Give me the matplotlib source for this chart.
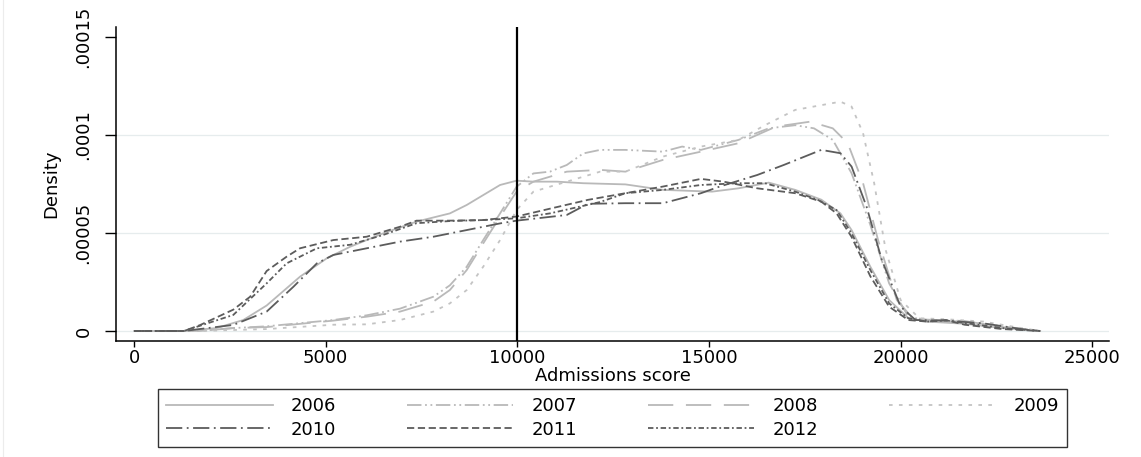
import matplotlib
matplotlib.use("Agg")
import matplotlib.pyplot as plt
from matplotlib.lines import Line2D

# --- Datos (densidades kernel por año) ---
x_2006 = [0, 1300, 2150, 2850, 3460, 4330, 5030, 5640, 6500, 7370, 8240, 8680, 9550, 9980,
          10420, 11030, 11720, 12820, 13800, 15080, 15770, 16560, 17250, 17930, 18430,
          18720, 19210, 19700, 20200, 20690, 21670, 22650, 23640]
y_2006 = [0, 0, 0.0000015, 0.0000056, 0.000013, 0.0000277, 0.0000371, 0.000043, 0.0000498,
          0.0000558, 0.00006, 0.0000643, 0.0000745, 0.0000767, 0.0000762, 0.0000762,
          0.0000754, 0.0000748, 0.000072, 0.0000711, 0.0000728, 0.0000757, 0.000072,
          0.000067, 0.00006, 0.0000515, 0.0000328, 0.0000158, 0.0000066, 0.0000048,
          0.0000037, 0.0000015, 0]

x_2007 = [0, 1700, 2600, 3460, 5200, 6070, 6940, 7810, 8240, 8680, 9110, 9550, 9980, 10420,
          10850, 11290, 11720, 12160, 12820, 13800, 14300, 14790, 15770, 16560, 17250,
          17740, 18230, 18720, 19210, 19700, 20200, 20690, 21670, 22650, 23640]
y_2007 = [0, 0, 0.0000015, 0.0000024, 0.0000056, 0.000008, 0.0000114, 0.0000175, 0.0000233,
          0.0000328, 0.0000464, 0.00006, 0.0000736, 0.0000804, 0.0000813, 0.0000847,
          0.0000906, 0.0000924, 0.0000924, 0.0000915, 0.0000941, 0.0000924, 0.0000975,
          0.0001034, 0.000105, 0.0001034, 0.0000975, 0.0000805, 0.0000541, 0.0000243,
          0.0000073, 0.0000054, 0.0000048, 0.0000024, 0]

x_2008 = [0, 1700, 2600, 3460, 5200, 6070, 6940, 7810, 8240, 8680, 9110, 9550, 9980, 10420,
          11290, 12160, 12820, 13800, 14790, 15770, 16750, 17640, 18230, 18620, 19020,
          19410, 19900, 20300, 20690, 21670, 22650, 23640]
y_2008 = [0, 0, 0.0000015, 0.0000020, 0.0000053, 0.0000073, 0.0000099, 0.0000150, 0.0000209,
          0.0000311, 0.0000447, 0.0000583, 0.0000711, 0.0000762, 0.0000813, 0.0000822,
          0.0000813, 0.0000873, 0.0000915, 0.0000958, 0.0001043, 0.0001068, 0.0001034,
          0.0000958, 0.0000754, 0.0000465, 0.0000158, 0.0000068, 0.0000058, 0.0000051,
          0.0000020, 0]

x_2009 = [0, 1700, 3460, 5200, 6070, 6940, 7810, 8240, 8680, 9110, 9550, 9980, 10420, 11290,
          12160, 12820, 13800, 14790, 15770, 16460, 17250, 18430, 18720, 19020, 19310,
          19610, 20000, 20490, 21180, 22160, 23150, 23640]
y_2009 = [0, 0, 0.0000010, 0.0000032, 0.0000034, 0.0000056, 0.0000099, 0.0000141, 0.0000209,
          0.0000328, 0.0000464, 0.0000617, 0.0000711, 0.0000762, 0.0000813, 0.0000813,
          0.000089, 0.0000941, 0.0000975, 0.000105, 0.0001128, 0.000117, 0.0001145,
          0.0001009, 0.0000754, 0.0000413, 0.0000158, 0.0000065, 0.000006, 0.0000048,
          0.0000015, 0]

x_2010 = [0, 1300, 2590, 3460, 4160, 4770, 5200, 6070, 6940, 7810, 8680, 9550, 9980, 11290,
          11840, 12820, 13800, 14790, 15280, 16260, 16950, 17930, 18430, 18720, 19110,
          19510, 20000, 20390, 21180, 22160, 23150, 23640]
y_2010 = [0, 0, 0.0000031, 0.0000099, 0.0000226, 0.0000345, 0.0000388, 0.0000422, 0.0000456,
          0.0000481, 0.0000515, 0.0000549, 0.0000563, 0.0000592, 0.0000649, 0.0000652,
          0.0000652, 0.0000703, 0.0000737, 0.0000796, 0.0000847, 0.0000924, 0.0000907,
          0.0000839, 0.0000635, 0.0000362, 0.0000124, 0.0000056, 0.0000053, 0.0000039,
          0.0000010, 0]

x_2011 = [0, 1300, 1720, 2590, 3030, 3460, 3980, 4330, 5200, 6070, 6940, 7370, 8240, 9110,
          9980, 10850, 11840, 12820, 13800, 14790, 15380, 16260, 17250, 17930, 18330,
          18720, 19210, 19700, 20200, 20690, 21180, 21670, 22650, 23640]
y_2011 = [0, 0, 0.000003, 0.0000109, 0.0000175, 0.0000306, 0.0000379, 0.0000422, 0.0000464,
          0.0000481, 0.0000532, 0.0000563, 0.0000563, 0.0000566, 0.0000584, 0.0000624,
          0.0000669, 0.0000703, 0.0000737, 0.0000776, 0.0000762, 0.0000728, 0.0000703,
          0.000066, 0.00006, 0.000048, 0.0000279, 0.0000124, 0.0000056, 0.0000048,
          0.0000056, 0.0000032, 0.0000010, 0]

x_2012 = [0, 1300, 2590, 3460, 3980, 4770, 5640, 6500, 7370, 8240, 9110, 9980, 10850, 12160,
          12820, 13800, 14790, 15770, 16460, 17250, 17840, 18330, 18720, 19210, 19700,
          20200, 20690, 21180, 21670, 22650, 23640]
y_2012 = [0, 0, 0.0000082, 0.0000243, 0.0000345, 0.0000422, 0.000044, 0.000049, 0.000055,
          0.0000561, 0.0000566, 0.0000575, 0.00006, 0.0000658, 0.0000703, 0.000072,
          0.0000745, 0.0000754, 0.0000754, 0.0000711, 0.0000669, 0.0000617, 0.0000498,
          0.0000311, 0.0000141, 0.0000065, 0.0000048, 0.0000054, 0.0000041, 0.0000015, 0]

years = ["2006", "2007", "2008", "2009", "2010", "2011", "2012"]
xs = [x_2006, x_2007, x_2008, x_2009, x_2010, x_2011, x_2012]
ys = [y_2006, y_2007, y_2008, y_2009, y_2010, y_2011, y_2012]

x_ticks = [0, 5000, 10000, 15000, 20000, 25000]
y_ticks = [0, 0.00005, 0.0001, 0.00015]
y_tick_labels = ["0", ".00005", ".0001", ".00015"]
corte = 10000

# --- Estilos (gris claro / gris oscuro, tipo s1mono) ---
claro = "#b9b9b9"
oscuro = "#5c5c5c"
estilos = [
    dict(color=claro, linestyle="-"),
    dict(color=claro, linestyle=(0, (8, 2, 1, 2, 1, 2))),
    dict(color=claro, linestyle=(0, (14, 7))),
    dict(color="#c4c4c4", linestyle=(0, (2, 3.5))),
    dict(color=oscuro, linestyle=(0, (9, 2.5, 1, 2.5))),
    dict(color=oscuro, linestyle=(0, (4, 2))),
    dict(color=oscuro, linestyle=(0, (3, 1.5, 1, 1.5))),
]

plt.rcParams["font.family"] = ["DejaVu Sans"]

fig = plt.figure(figsize=(11.41, 4.57), dpi=100)
ax = fig.add_axes([116 / 1141, 1 - 341 / 457, 993 / 1141, 314 / 457])

for yv in y_ticks[:-1]:
    ax.axhline(yv, color="#e6eced", lw=0.9, zorder=0)

lineas = []
for x, y, anio, est in zip(xs, ys, years, estilos):
    l, = ax.plot(x, y, lw=1.3, label=anio, **est)
    lineas.append(l)

ax.axvline(corte, color="black", lw=1.6, zorder=5)

ax.set_xlim(-470, 25436)
ax.set_ylim(-0.0000051, 0.0001551)

for lado in ["top", "right"]:
    ax.spines[lado].set_visible(False)
for lado in ["left", "bottom"]:
    ax.spines[lado].set_linewidth(1.1)

ax.set_xticks(x_ticks)
ax.set_xticklabels([str(t) for t in x_ticks])
ax.set_yticks(y_ticks)
ax.set_yticklabels(y_tick_labels, rotation=90, va="center")
ax.tick_params(axis="x", length=4.5, width=1, labelsize=13, pad=1)
ax.tick_params(axis="y", length=8, width=1, labelsize=13, pad=9)

ax.set_xlabel("Admissions score", fontsize=13, labelpad=0)
ax.set_ylabel("Density", fontsize=13, labelpad=10)

# leyenda por filas (matplotlib llena por columnas)
orden = [0, 4, 1, 5, 2, 6, 3]
leg = fig.legend([lineas[i] for i in orden], [years[i] for i in orden],
                 loc="center", ncol=4, mode="expand",
                 bbox_to_anchor=(158 / 1141, 1 - 443 / 457, 909 / 1141, 50 / 457),
                 fontsize=13, handlelength=5.9, handletextpad=1.0,
                 borderpad=0.45, labelspacing=0.3, borderaxespad=0,
                 fancybox=False, frameon=True)
leg.get_frame().set_edgecolor("black")
leg.get_frame().set_linewidth(1.0)

# borde tenue a la izquierda
fig.add_artist(Line2D([3 / 1141, 3 / 1141], [0, 1], color="#ececec", lw=0.8))

fig.savefig("out.png", dpi=100)
